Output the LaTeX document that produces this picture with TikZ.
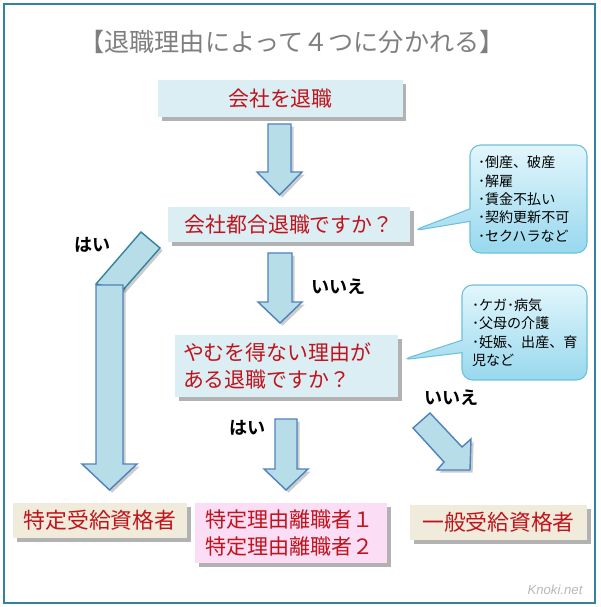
\documentclass[tikz,border=0pt]{standalone}
\usepackage{fontspec}
\setmainfont{Noto Sans CJK JP}[BoldFont={Noto Sans CJK JP Bold}]
\newfontfamily\latinfont{Liberation Sans}
\usepackage{xcolor}
\usetikzlibrary{shapes.callouts, shadows, calc}

\definecolor{framecol}{HTML}{31849B}
\definecolor{boxblue}{HTML}{DAEEF3}
\definecolor{boxtan}{HTML}{F1EBDB}
\definecolor{boxpink}{HTML}{FCDDF6}
\definecolor{redtext}{HTML}{C0141C}
\definecolor{titlegray}{HTML}{7F7F7F}
\definecolor{arrowfill}{HTML}{B7DDE8}
\definecolor{arrowdraw}{HTML}{4F81BD}
\definecolor{notetop}{HTML}{E2F6FC}
\definecolor{notebottom}{HTML}{98D8EE}
\definecolor{notedraw}{HTML}{6CC0DC}

\tikzset{
  boxshadow/.style={drop shadow={shadow xshift=2pt, shadow yshift=-2pt, fill=black, opacity=0.3}},
  qbox/.style={fill=boxblue, boxshadow, text=redtext, inner sep=0pt,
    font=\fontsize{11.9}{15.3}\selectfont},
  endbox/.style={qbox, fill=boxtan, font=\fontsize{12.4}{15.3}\selectfont},
  pinkbox/.style={qbox, fill=boxpink, font=\fontsize{12}{15.3}\selectfont},
  note/.style={shape=rectangle callout, rounded corners=6pt, draw=notedraw,
    top color=notetop, bottom color=notebottom, line width=0.6pt,
    inner sep=0pt, align=left, font=\fontsize{8}{10.5}\selectfont},
  answer/.style={font=\bfseries\fontsize{10.3}{12}\selectfont, text=black},
  blockarrow/.style={fill=arrowfill, draw=arrowdraw, line width=0.8pt,
    drop shadow={shadow xshift=1.5pt, shadow yshift=-1.5pt, fill=black, opacity=0.2}},
  bendarrow/.style={blockarrow, draw=framecol}
}

\begin{document}
\begin{tikzpicture}[x=0.02cm, y=-0.02cm]
  \useasboundingbox (0,0) rectangle (600,607);
  \draw[framecol, line width=1.3pt] (4,4) rectangle (595,603);

  % Title
  \node[text=titlegray, font=\fontsize{14.3}{16}\selectfont] (title) at (292,42)
    {【退職理由によって４つに分かれる】};

  % Questions
  \node[qbox, minimum width=4.9cm, minimum height=0.74cm] (start) at (280.5,98.5) {会社を退職};
  \node[qbox, minimum width=4.84cm, minimum height=0.7cm] (q1) at (289,224.5) {会社都合退職ですか？};
  \node[qbox, minimum width=4.46cm, minimum height=1.24cm, text width=4.14cm, align=left]
    (q2) at (286.5,366) {やむを得ない理由が\\ある退職ですか？};

  % Results
  \node[endbox, minimum width=3.48cm, minimum height=0.7cm] (specific) at (100,520.5) {特定受給資格者};
  \node[pinkbox, minimum width=3.84cm, minimum height=1.2cm, text width=3.44cm, align=left]
    (reason) at (291,533) {特定理由離職者１\\特定理由離職者２};
  \node[endbox, minimum width=3.54cm, minimum height=0.7cm] (general) at (498.5,522.5) {一般受給資格者};

  % Notes
  \node[note, minimum width=2.34cm, minimum height=2.16cm, text width=2.02cm,
    callout absolute pointer={($(q1.east)+(2,6.5)$)}] (note1) at (528.5,199)
    {･倒産、破産\\･解雇\\･賃金不払い\\･契約更新不可\\･セクハラなど};
  \node[note, minimum width=2.5cm, minimum height=1.9cm, text width=2.1cm,
    callout absolute pointer={($(q2.east)+(3,-6)$)}] (note2) at (524.5,332.5)
    {･ケガ･病気\\･父母の介護\\･妊娠、出産、育\\児など};

  % Answers
  \node[answer] (yes1) at (92.5,245) {はい};
  \node[answer] (no1) at (338.5,287) {いいえ};
  \node[answer] (no2) at (451.5,398) {いいえ};
  \node[answer] (yes2) at (247.5,428) {はい};

  % start -> q1
  \draw[blockarrow] (268,124) -- (291,124) -- (291,172) -- (302,172) -- (279.5,195)
    -- (257,172) -- (268,172) -- cycle;
  % q1 -> q2
  \draw[blockarrow] (268,253) -- (292,253) -- (292,302) -- (302,302) -- (280,323)
    -- (258,302) -- (268,302) -- cycle;
  % q2 -> reason
  \draw[blockarrow] (275,419) -- (297,419) -- (297,469) -- (308,469) -- (286,490)
    -- (264,469) -- (275,469) -- cycle;
  % q2 -> general
  \draw[blockarrow] (413,428) -- (430,413) -- (462,447) -- (471,439) -- (470,470)
    -- (437,470) -- (444,462) -- cycle;
  % q1 -> specific
  \draw[bendarrow] (96,284) -- (141,232) -- (160,248) -- (123,290) -- cycle;
  \draw[blockarrow] (96,285) -- (123,285) -- (123,464) -- (137,464) -- (109.5,490)
    -- (82,464) -- (96,464) -- cycle;

  \node[font=\latinfont\itshape\fontsize{7.5}{9}\selectfont, text=black!28] (credit) at (555,590) {Knoki.net};
\end{tikzpicture}
\end{document}
